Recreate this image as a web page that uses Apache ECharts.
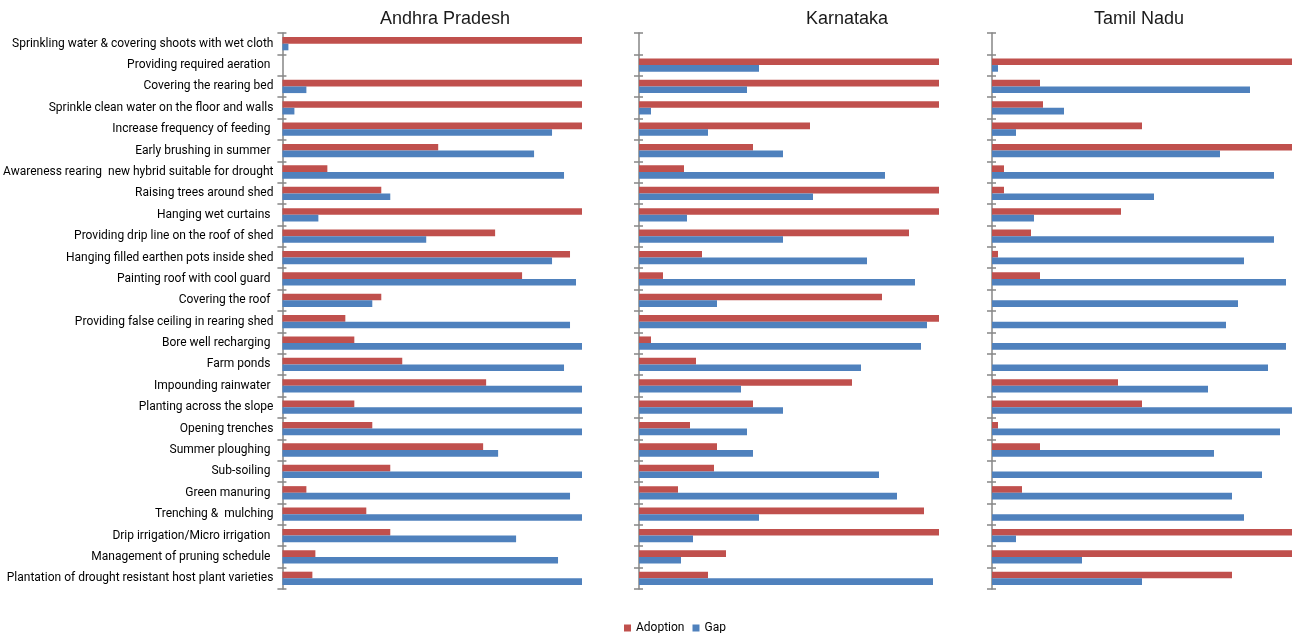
<!DOCTYPE html>
<html>
<head>
<meta charset="utf-8">
<script src="https://cdn.jsdelivr.net/npm/echarts@6/dist/echarts.min.js"></script>
<style>
html,body{margin:0;padding:0;background:#fff;}
#chart{width:1295px;height:633px;}
</style>
</head>
<body>
<div id="chart"></div>
<script>
const categories = [
  "Sprinkling water & covering shoots with wet cloth",
  "Providing required aeration ",
  "Covering the rearing bed",
  "Sprinkle clean water on the floor and walls",
  "Increase frequency of feeding ",
  "Early brushing in summer ",
  "Awareness rearing  new hybrid suitable for drought",
  "Raising trees around shed",
  "Hanging wet curtains ",
  "Providing drip line on the roof of shed",
  "Hanging filled earthen pots inside shed",
  "Painting roof with cool guard ",
  "Covering the roof ",
  "Providing false ceiling in rearing shed",
  "Bore well recharging ",
  "Farm ponds ",
  "Impounding rainwater ",
  "Planting across the slope",
  "Opening trenches",
  "Summer ploughing ",
  "Sub-soiling ",
  "Green manuring ",
  "Trenching &  mulching",
  "Drip irrigation/Micro irrigation ",
  "Management of pruning schedule ",
  "Plantation of drought resistant host plant varieties"
];
const states = ["Andhra Pradesh", "Karnataka", "Tamil Nadu"];
const seriesNames = ["Adoption", "Gap"];

const apAdoption = [100, 0, 100, 100, 100, 52, 15, 33, 100, 71, 96, 80, 33, 21, 24, 40, 68, 24, 30, 67, 36, 8, 28, 36, 11, 10];
const apGap      = [2, 0, 8, 4, 90, 84, 94, 36, 12, 48, 90, 98, 30, 96, 100, 94, 100, 100, 100, 72, 100, 96, 100, 78, 92, 100];

const kaAdoption = [0, 100, 100, 100, 57, 38, 15, 100, 100, 90, 21, 8, 81, 100, 4, 19, 71, 38, 17, 26, 25, 13, 95, 100, 29, 23];
const kaGap      = [0, 40, 36, 4, 23, 48, 82, 58, 16, 48, 76, 92, 26, 96, 94, 74, 34, 48, 36, 38, 80, 86, 40, 18, 14, 98];

const tnAdoption = [0, 100, 16, 17, 50, 100, 4, 4, 43, 13, 2, 16, 0, 0, 0, 0, 42, 50, 2, 16, 0, 10, 0, 100, 100, 80];
const tnGap      = [0, 2, 86, 24, 8, 76, 94, 54, 14, 94, 84, 98, 82, 78, 98, 92, 72, 100, 96, 74, 90, 80, 84, 8, 30, 50];

const panels = [
  {adoption: apAdoption, gap: apGap},
  {adoption: kaAdoption, gap: kaGap},
  {adoption: tnAdoption, gap: tnGap}
];

const RED = "#C0504D";
const BLUE = "#4F81BD";
const AXIS = "#868686";
const LABEL_FONT = "Roboto";

const gridLefts = [282, 639, 992];
const gridWidth = 300;
const titleCenters = [440, 842, 1134];

const grid = [], xAxis = [], yAxis = [], series = [], title = [];
panels.forEach((p, i) => {
  grid.push({left: gridLefts[i], width: gridWidth, top: 33, height: 556, containLabel: false});
  xAxis.push({type: 'value', gridIndex: i, min: 0, max: 100, show: false});
  yAxis.push({
    type: 'category', gridIndex: i, data: categories, inverse: true, position: 'left',
    axisLine: {show: true, lineStyle: {color: AXIS, width: 1.5}},
    axisTick: {show: true, length: 5, lineStyle: {color: AXIS, width: 1.5}},
    axisLabel: {show: i === 0, margin: 9, fontFamily: LABEL_FONT, fontSize: 12, color: '#000'},
    splitLine: {show: false}
  });
  yAxis.push({
    type: 'category', gridIndex: i, data: categories, inverse: true, position: 'left', offset: 0,
    axisLine: {show: false},
    axisTick: {show: true, inside: true, length: 4, lineStyle: {color: AXIS, width: 1.5}},
    axisLabel: {show: false},
    splitLine: {show: false}
  });
  series.push({
    name: seriesNames[0], type: 'bar', xAxisIndex: i, yAxisIndex: i * 2,
    data: p.adoption, itemStyle: {color: RED}, barGap: '0%', barCategoryGap: '38%',
    silent: true
  });
  series.push({
    name: seriesNames[1], type: 'bar', xAxisIndex: i, yAxisIndex: i * 2,
    data: p.gap, itemStyle: {color: BLUE}, barGap: '0%', barCategoryGap: '38%',
    silent: true
  });
  title.push({
    text: states[i], left: titleCenters[i], top: 5, textAlign: 'center',
    textStyle: {fontFamily: 'Liberation Sans', fontSize: 18, fontWeight: 'normal', color: '#1a1a1a'}
  });
});

const chart = echarts.init(document.getElementById('chart'), null, {renderer: 'canvas'});
chart.setOption({
  animation: false,
  backgroundColor: '#fff',
  title: title,
  legend: {
    data: seriesNames, top: 617, left: 619, icon: 'rect', itemWidth: 7, itemHeight: 7, itemGap: 8,
    textStyle: {fontFamily: LABEL_FONT, fontSize: 12, color: '#000'}
  },
  grid: grid,
  xAxis: xAxis,
  yAxis: yAxis,
  series: series
});
</script>
</body>
</html>
